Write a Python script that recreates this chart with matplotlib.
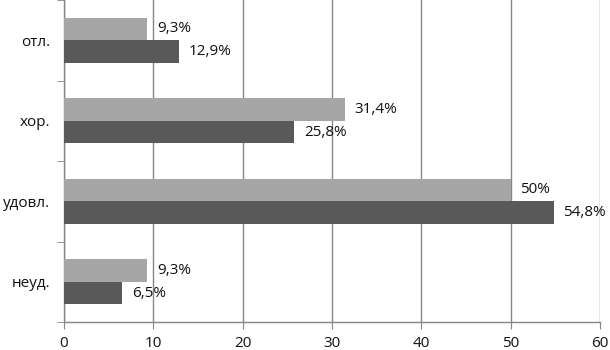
import matplotlib.pyplot as plt
import numpy as np

plt.rcParams['font.family'] = ['Open Sans', 'DejaVu Sans']

categories = ["отл.", "хор.", "удовл.", "неуд."]
light_vals = [9.3, 31.4, 50, 9.3]
dark_vals = [12.9, 25.8, 54.8, 6.5]
light_labels = ["9,3%", "31,4%", "50%", "9,3%"]
dark_labels = ["12,9%", "25,8%", "54,8%", "6,5%"]

fig = plt.figure(figsize=(6.1, 3.5), dpi=100)
ax = fig.add_axes([64 / 610, 28 / 350, 536 / 610, 322 / 350])

y = np.arange(len(categories))[::-1]
h = 0.28
gray = "#868686"
fs = 11

b1 = ax.barh(y + h / 2, light_vals, height=h, color="#a6a6a6", zorder=3)
b2 = ax.barh(y - h / 2, dark_vals, height=h, color="#595959", zorder=3)

for bars, labels in ((b1, light_labels), (b2, dark_labels)):
    for bar, lab in zip(bars, labels):
        ax.annotate(lab, (bar.get_width(), bar.get_y() + bar.get_height() / 2),
                    xytext=(7, 0), textcoords="offset points",
                    va="center", ha="left", fontsize=fs, color="#111111")

ax.set_xlim(0, 60)
ax.set_ylim(-0.5, 3.5)
ax.set_xticks(range(0, 61, 10))
ax.set_yticks(y)
ax.set_yticklabels(categories)
ax.set_yticks([-0.5, 0.5, 1.5, 2.5, 3.5], minor=True)

ax.grid(axis="x", color=gray, linewidth=1, zorder=0)
for s in ("top", "right"):
    ax.spines[s].set_visible(False)
for s in ("left", "bottom"):
    ax.spines[s].set_color(gray)
    ax.spines[s].set_linewidth(1)

ax.tick_params(axis="y", which="major", length=0, pad=10, labelsize=fs, labelcolor="#111111")
ax.tick_params(axis="y", which="minor", length=5, color=gray)
ax.tick_params(axis="x", length=5, color=gray, pad=5, labelsize=fs, labelcolor="#111111")

fig.savefig("out.png", dpi=100)
